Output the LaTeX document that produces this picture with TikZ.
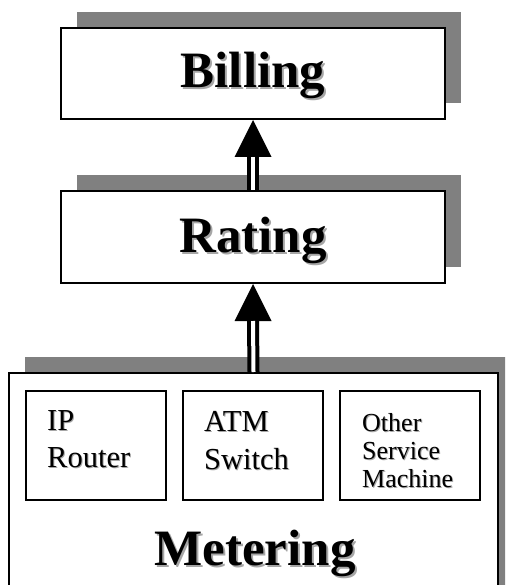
\documentclass[tikz,border=0pt]{standalone}
\usepackage{fontspec}
\setmainfont{Liberation Serif}
\usetikzlibrary{calc,shadows}

% text with a soft grey copy offset to the lower right
\newcommand\shadowtext[2][2pt]{\makebox[0pt][l]{\kern#1\raisebox{-#1}{\textcolor{black!35}{#2}}}#2}

\tikzset{
  panel/.style={draw=black, line width=2pt, fill=white, inner sep=0pt,
    drop shadow={opacity=1, fill=black!50, shadow xshift=16pt, shadow yshift=16pt}},
  device/.style={draw=black, line width=1.6pt, fill=white, inner sep=0pt,
    minimum width=140pt, minimum height=109pt},
  title/.style={font=\fontsize{51}{60}\selectfont\bfseries},
  devtext/.style={inner sep=0pt, align=left, anchor=north west,
    font=\fontsize{30.5}{37.7}\selectfont},
  devtextsmall/.style={inner sep=0pt, align=left, anchor=north west,
    font=\fontsize{26}{28}\selectfont},
  shaft/.style={draw=black, line width=4pt, double=white, double distance=4pt},
  head/.style={fill=black}
}

\begin{document}
\begin{tikzpicture}[x=1pt, y=-1pt]
  \useasboundingbox (0,0) rectangle (505,585);
  \clip (0,0) rectangle (505,585);

  % processing layers
  \node[panel, title, minimum width=384pt, minimum height=91pt,
        text height=35pt, text depth=6pt] (billing) at (253,73.5) {\shadowtext{Billing}};
  \node[panel, title, minimum width=384pt, minimum height=92pt,
        text height=35pt, text depth=5pt] (rating) at (253,237) {\shadowtext{Rating}};
  \node[panel, minimum width=489pt, minimum height=247pt] (metering) at (253.5,496.5) {};
  \node[title, inner sep=0pt, anchor=base] (meterlabel) at (255,565) {\shadowtext{Metering}};

  % metered devices
  \node[device] (ipbox) at (96,445.5) {};
  \node[device] (atmbox) at (253,445.5) {};
  \node[device] (otherbox) at (410,445.5) {};
  \node[devtext] (iptext) at (47,410) {\shadowtext[1pt]{IP}\\\shadowtext[1pt]{Router}};
  \node[devtext] (atmtext) at (204,411.5) {\shadowtext[1pt]{ATM}\\\shadowtext[1pt]{Switch}};
  \node[devtextsmall] (othertext) at (362,413) {\shadowtext[1pt]{Other}\\\shadowtext[1pt]{Service}\\\shadowtext[1pt]{Machine}};

  % upward flow arrows with hollow double shafts
  \fill[head] (billing.south) -- ++(-18.5,37) -- ++(37,0) -- cycle;
  \draw[shaft] ($(billing.south)+(0,37)$) -- (rating.north);
  \fill[head] (rating.south) -- ++(-18.5,37) -- ++(37,0) -- cycle;
  \draw[shaft] ($(rating.south)+(0,37)$) -- (metering.north);
\end{tikzpicture}
\end{document}
